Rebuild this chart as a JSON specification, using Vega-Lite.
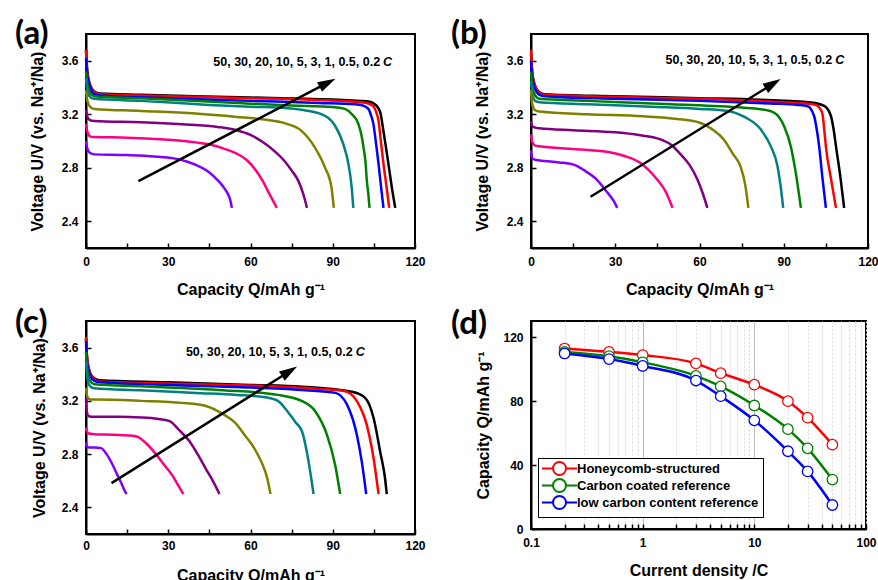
{
"$schema": "https://vega.github.io/schema/vega-lite/v6.json",
"padding": {"left": 14, "top": 17, "right": 2, "bottom": 0},
"config": {
 "font": "Liberation Sans",
 "view": {"stroke": "black", "strokeWidth": 2},
 "axis": {"labelFont": "Liberation Sans", "labelFontSize": 12, "labelFontWeight": "bold", "labelColor": "black", "titleFont": "Liberation Sans", "titleFontSize": 16, "titleFontWeight": "bold", "titleColor": "black", "domainColor": "black", "domainWidth": 2, "tickColor": "black", "tickWidth": 1.5, "tickSize": -5, "grid": false}
},
"resolve": {"scale": {"color": "independent"}, "legend": {"color": "independent"}},
"datasets": {
 "curves": [
{"p":"a","r":"0.2","x":0,"y":3.68},{"p":"a","r":"0.2","x":0.5,"y":3.52},{"p":"a","r":"0.2","x":1.5,"y":3.42},{"p":"a","r":"0.2","x":3,"y":3.37},{"p":"a","r":"0.2","x":5,"y":3.355},{"p":"a","r":"0.2","x":20,"y":3.345},{"p":"a","r":"0.2","x":40,"y":3.335},{"p":"a","r":"0.2","x":60,"y":3.325},{"p":"a","r":"0.2","x":80,"y":3.315},{"p":"a","r":"0.2","x":100,"y":3.3},{"p":"a","r":"0.2","x":103,"y":3.295},{"p":"a","r":"0.2","x":105,"y":3.28},{"p":"a","r":"0.2","x":106.5,"y":3.25},{"p":"a","r":"0.2","x":107.5,"y":3.2},{"p":"a","r":"0.2","x":108.3,"y":3.1},{"p":"a","r":"0.2","x":109.2,"y":2.98},{"p":"a","r":"0.2","x":110.3,"y":2.83},{"p":"a","r":"0.2","x":111.5,"y":2.66},{"p":"a","r":"0.2","x":112.8,"y":2.5},
{"p":"a","r":"0.5","x":0,"y":3.68},{"p":"a","r":"0.5","x":0.5,"y":3.5},{"p":"a","r":"0.5","x":1.5,"y":3.41},{"p":"a","r":"0.5","x":3,"y":3.365},{"p":"a","r":"0.5","x":5,"y":3.35},{"p":"a","r":"0.5","x":20,"y":3.34},{"p":"a","r":"0.5","x":40,"y":3.33},{"p":"a","r":"0.5","x":60,"y":3.32},{"p":"a","r":"0.5","x":80,"y":3.31},{"p":"a","r":"0.5","x":100,"y":3.29},{"p":"a","r":"0.5","x":103,"y":3.28},{"p":"a","r":"0.5","x":104.8,"y":3.26},{"p":"a","r":"0.5","x":105.8,"y":3.22},{"p":"a","r":"0.5","x":106.7,"y":3.15},{"p":"a","r":"0.5","x":107.6,"y":2.99},{"p":"a","r":"0.5","x":108.5,"y":2.83},{"p":"a","r":"0.5","x":109.6,"y":2.66},{"p":"a","r":"0.5","x":110.6,"y":2.5},
{"p":"a","r":"1","x":0,"y":3.62},{"p":"a","r":"1","x":0.5,"y":3.48},{"p":"a","r":"1","x":1.5,"y":3.4},{"p":"a","r":"1","x":3,"y":3.35},{"p":"a","r":"1","x":5,"y":3.34},{"p":"a","r":"1","x":30,"y":3.32},{"p":"a","r":"1","x":60,"y":3.3},{"p":"a","r":"1","x":85,"y":3.285},{"p":"a","r":"1","x":98,"y":3.275},{"p":"a","r":"1","x":101,"y":3.265},{"p":"a","r":"1","x":103,"y":3.24},{"p":"a","r":"1","x":104,"y":3.19},{"p":"a","r":"1","x":104.8,"y":3.13},{"p":"a","r":"1","x":105.8,"y":2.98},{"p":"a","r":"1","x":106.7,"y":2.83},{"p":"a","r":"1","x":107.6,"y":2.66},{"p":"a","r":"1","x":108.5,"y":2.5},
{"p":"a","r":"3","x":0,"y":3.52},{"p":"a","r":"3","x":0.5,"y":3.42},{"p":"a","r":"3","x":1.5,"y":3.36},{"p":"a","r":"3","x":3,"y":3.335},{"p":"a","r":"3","x":20,"y":3.32},{"p":"a","r":"3","x":50,"y":3.29},{"p":"a","r":"3","x":75,"y":3.265},{"p":"a","r":"3","x":90,"y":3.255},{"p":"a","r":"3","x":94.4,"y":3.24},{"p":"a","r":"3","x":97,"y":3.2},{"p":"a","r":"3","x":99.3,"y":3.13},{"p":"a","r":"3","x":100.4,"y":3.05},{"p":"a","r":"3","x":101.2,"y":2.955},{"p":"a","r":"3","x":102,"y":2.83},{"p":"a","r":"3","x":102.4,"y":2.71},{"p":"a","r":"3","x":103,"y":2.6},{"p":"a","r":"3","x":103.4,"y":2.5},
{"p":"a","r":"5","x":0,"y":3.47},{"p":"a","r":"5","x":0.5,"y":3.38},{"p":"a","r":"5","x":1.5,"y":3.33},{"p":"a","r":"5","x":3,"y":3.315},{"p":"a","r":"5","x":20,"y":3.3},{"p":"a","r":"5","x":45,"y":3.27},{"p":"a","r":"5","x":62,"y":3.255},{"p":"a","r":"5","x":70,"y":3.25},{"p":"a","r":"5","x":78.5,"y":3.233},{"p":"a","r":"5","x":85.9,"y":3.2},{"p":"a","r":"5","x":90.8,"y":3.116},{"p":"a","r":"5","x":93.8,"y":2.98},{"p":"a","r":"5","x":95.7,"y":2.83},{"p":"a","r":"5","x":96.9,"y":2.656},{"p":"a","r":"5","x":97.5,"y":2.5},
{"p":"a","r":"10","x":0,"y":3.38},{"p":"a","r":"10","x":0.5,"y":3.3},{"p":"a","r":"10","x":1.5,"y":3.255},{"p":"a","r":"10","x":3,"y":3.24},{"p":"a","r":"10","x":20,"y":3.225},{"p":"a","r":"10","x":40,"y":3.205},{"p":"a","r":"10","x":55,"y":3.18},{"p":"a","r":"10","x":65,"y":3.16},{"p":"a","r":"10","x":73,"y":3.13},{"p":"a","r":"10","x":78.5,"y":3.078},{"p":"a","r":"10","x":83.4,"y":2.954},{"p":"a","r":"10","x":87.1,"y":2.805},{"p":"a","r":"10","x":89.5,"y":2.656},{"p":"a","r":"10","x":90.4,"y":2.5},
{"p":"a","r":"20","x":0,"y":3.23},{"p":"a","r":"20","x":0.5,"y":3.18},{"p":"a","r":"20","x":1.5,"y":3.155},{"p":"a","r":"20","x":3,"y":3.15},{"p":"a","r":"20","x":20,"y":3.14},{"p":"a","r":"20","x":35,"y":3.125},{"p":"a","r":"20","x":48,"y":3.105},{"p":"a","r":"20","x":55,"y":3.08},{"p":"a","r":"20","x":60,"y":3.045},{"p":"a","r":"20","x":65,"y":2.985},{"p":"a","r":"20","x":69,"y":2.92},{"p":"a","r":"20","x":72,"y":2.86},{"p":"a","r":"20","x":75,"y":2.78},{"p":"a","r":"20","x":77.5,"y":2.7},{"p":"a","r":"20","x":79.3,"y":2.6},{"p":"a","r":"20","x":80.6,"y":2.5},
{"p":"a","r":"30","x":0,"y":3.13},{"p":"a","r":"30","x":0.5,"y":3.07},{"p":"a","r":"30","x":1.5,"y":3.035},{"p":"a","r":"30","x":3,"y":3.03},{"p":"a","r":"30","x":15,"y":3.025},{"p":"a","r":"30","x":30,"y":3.01},{"p":"a","r":"30","x":38,"y":2.995},{"p":"a","r":"30","x":44.6,"y":2.975},{"p":"a","r":"30","x":50,"y":2.945},{"p":"a","r":"30","x":55,"y":2.905},{"p":"a","r":"30","x":58.5,"y":2.86},{"p":"a","r":"30","x":62,"y":2.78},{"p":"a","r":"30","x":64.5,"y":2.7},{"p":"a","r":"30","x":66.5,"y":2.62},{"p":"a","r":"30","x":68.3,"y":2.55},{"p":"a","r":"30","x":69.6,"y":2.5},
{"p":"a","r":"50","x":0,"y":3.0},{"p":"a","r":"50","x":0.5,"y":2.94},{"p":"a","r":"50","x":1.5,"y":2.91},{"p":"a","r":"50","x":3,"y":2.9},{"p":"a","r":"50","x":15,"y":2.895},{"p":"a","r":"50","x":25,"y":2.885},{"p":"a","r":"50","x":32,"y":2.87},{"p":"a","r":"50","x":37,"y":2.845},{"p":"a","r":"50","x":41.8,"y":2.805},{"p":"a","r":"50","x":45,"y":2.765},{"p":"a","r":"50","x":47.9,"y":2.71},{"p":"a","r":"50","x":50,"y":2.66},{"p":"a","r":"50","x":51.6,"y":2.61},{"p":"a","r":"50","x":52.6,"y":2.56},{"p":"a","r":"50","x":53.2,"y":2.5},

{"p":"b","r":"0.2","x":0,"y":3.65},{"p":"b","r":"0.2","x":0.5,"y":3.5},{"p":"b","r":"0.2","x":1.5,"y":3.41},{"p":"b","r":"0.2","x":3,"y":3.365},{"p":"b","r":"0.2","x":5,"y":3.35},{"p":"b","r":"0.2","x":30,"y":3.335},{"p":"b","r":"0.2","x":60,"y":3.32},{"p":"b","r":"0.2","x":81.7,"y":3.308},{"p":"b","r":"0.2","x":99.6,"y":3.288},{"p":"b","r":"0.2","x":104.4,"y":3.263},{"p":"b","r":"0.2","x":106.8,"y":3.187},{"p":"b","r":"0.2","x":107.8,"y":3.08},{"p":"b","r":"0.2","x":108.6,"y":2.96},{"p":"b","r":"0.2","x":110.3,"y":2.71},{"p":"b","r":"0.2","x":111.5,"y":2.5},
{"p":"b","r":"0.5","x":0,"y":3.68},{"p":"b","r":"0.5","x":0.5,"y":3.5},{"p":"b","r":"0.5","x":1.5,"y":3.41},{"p":"b","r":"0.5","x":3,"y":3.36},{"p":"b","r":"0.5","x":5,"y":3.345},{"p":"b","r":"0.5","x":30,"y":3.33},{"p":"b","r":"0.5","x":60,"y":3.315},{"p":"b","r":"0.5","x":90,"y":3.29},{"p":"b","r":"0.5","x":98,"y":3.28},{"p":"b","r":"0.5","x":101.4,"y":3.27},{"p":"b","r":"0.5","x":103,"y":3.24},{"p":"b","r":"0.5","x":103.8,"y":3.2},{"p":"b","r":"0.5","x":104.4,"y":3.09},{"p":"b","r":"0.5","x":105,"y":2.96},{"p":"b","r":"0.5","x":106.8,"y":2.72},{"p":"b","r":"0.5","x":108.6,"y":2.5},
{"p":"b","r":"1","x":0,"y":3.6},{"p":"b","r":"1","x":0.5,"y":3.47},{"p":"b","r":"1","x":1.5,"y":3.39},{"p":"b","r":"1","x":3,"y":3.345},{"p":"b","r":"1","x":5,"y":3.335},{"p":"b","r":"1","x":30,"y":3.315},{"p":"b","r":"1","x":60,"y":3.3},{"p":"b","r":"1","x":85,"y":3.28},{"p":"b","r":"1","x":95,"y":3.27},{"p":"b","r":"1","x":98.5,"y":3.26},{"p":"b","r":"1","x":100.8,"y":3.187},{"p":"b","r":"1","x":101.8,"y":3.08},{"p":"b","r":"1","x":102.6,"y":2.96},{"p":"b","r":"1","x":103.8,"y":2.72},{"p":"b","r":"1","x":105,"y":2.5},
{"p":"b","r":"3","x":0,"y":3.52},{"p":"b","r":"3","x":0.5,"y":3.4},{"p":"b","r":"3","x":1.5,"y":3.34},{"p":"b","r":"3","x":3,"y":3.315},{"p":"b","r":"3","x":20,"y":3.3},{"p":"b","r":"3","x":50,"y":3.275},{"p":"b","r":"3","x":75,"y":3.25},{"p":"b","r":"3","x":81.8,"y":3.238},{"p":"b","r":"3","x":86.5,"y":3.213},{"p":"b","r":"3","x":90.1,"y":3.112},{"p":"b","r":"3","x":92.5,"y":2.96},{"p":"b","r":"3","x":94.3,"y":2.76},{"p":"b","r":"3","x":96.1,"y":2.5},
{"p":"b","r":"5","x":0,"y":3.45},{"p":"b","r":"5","x":0.5,"y":3.35},{"p":"b","r":"5","x":1.5,"y":3.3},{"p":"b","r":"5","x":3,"y":3.29},{"p":"b","r":"5","x":20,"y":3.275},{"p":"b","r":"5","x":45,"y":3.255},{"p":"b","r":"5","x":60,"y":3.24},{"p":"b","r":"5","x":70,"y":3.225},{"p":"b","r":"5","x":76,"y":3.18},{"p":"b","r":"5","x":81.8,"y":3.087},{"p":"b","r":"5","x":85.4,"y":2.96},{"p":"b","r":"5","x":87.8,"y":2.81},{"p":"b","r":"5","x":88.9,"y":2.66},{"p":"b","r":"5","x":89.8,"y":2.5},
{"p":"b","r":"10","x":0,"y":3.38},{"p":"b","r":"10","x":0.5,"y":3.27},{"p":"b","r":"10","x":1.5,"y":3.23},{"p":"b","r":"10","x":3,"y":3.22},{"p":"b","r":"10","x":20,"y":3.2},{"p":"b","r":"10","x":40,"y":3.185},{"p":"b","r":"10","x":52,"y":3.165},{"p":"b","r":"10","x":60.4,"y":3.135},{"p":"b","r":"10","x":65,"y":3.08},{"p":"b","r":"10","x":68.7,"y":3.01},{"p":"b","r":"10","x":72,"y":2.9},{"p":"b","r":"10","x":74.6,"y":2.81},{"p":"b","r":"10","x":76.3,"y":2.67},{"p":"b","r":"10","x":77.4,"y":2.5},
{"p":"b","r":"20","x":0,"y":3.15},{"p":"b","r":"20","x":0.5,"y":3.11},{"p":"b","r":"20","x":1.5,"y":3.1},{"p":"b","r":"20","x":3,"y":3.095},{"p":"b","r":"20","x":15,"y":3.08},{"p":"b","r":"20","x":30,"y":3.065},{"p":"b","r":"20","x":40,"y":3.04},{"p":"b","r":"20","x":45,"y":3.02},{"p":"b","r":"20","x":50,"y":2.97},{"p":"b","r":"20","x":53.3,"y":2.9},{"p":"b","r":"20","x":56.5,"y":2.82},{"p":"b","r":"20","x":59.3,"y":2.71},{"p":"b","r":"20","x":61.3,"y":2.6},{"p":"b","r":"20","x":62.8,"y":2.5},
{"p":"b","r":"30","x":0,"y":3.05},{"p":"b","r":"30","x":0.5,"y":2.99},{"p":"b","r":"30","x":1.5,"y":2.965},{"p":"b","r":"30","x":3,"y":2.96},{"p":"b","r":"30","x":15,"y":2.94},{"p":"b","r":"30","x":27,"y":2.92},{"p":"b","r":"30","x":33,"y":2.89},{"p":"b","r":"30","x":39,"y":2.835},{"p":"b","r":"30","x":42,"y":2.78},{"p":"b","r":"30","x":45,"y":2.71},{"p":"b","r":"30","x":48,"y":2.62},{"p":"b","r":"30","x":50.4,"y":2.5},
{"p":"b","r":"50","x":0,"y":2.93},{"p":"b","r":"50","x":0.5,"y":2.87},{"p":"b","r":"50","x":1.5,"y":2.86},{"p":"b","r":"50","x":3,"y":2.855},{"p":"b","r":"50","x":10,"y":2.84},{"p":"b","r":"50","x":15,"y":2.825},{"p":"b","r":"50","x":19,"y":2.78},{"p":"b","r":"50","x":23.5,"y":2.71},{"p":"b","r":"50","x":27,"y":2.62},{"p":"b","r":"50","x":29.5,"y":2.55},{"p":"b","r":"50","x":30.7,"y":2.5},

{"p":"c","r":"0.2","x":0,"y":3.67},{"p":"c","r":"0.2","x":0.5,"y":3.5},{"p":"c","r":"0.2","x":1.5,"y":3.41},{"p":"c","r":"0.2","x":3,"y":3.37},{"p":"c","r":"0.2","x":5,"y":3.355},{"p":"c","r":"0.2","x":30,"y":3.34},{"p":"c","r":"0.2","x":60,"y":3.32},{"p":"c","r":"0.2","x":78.8,"y":3.306},{"p":"c","r":"0.2","x":97,"y":3.268},{"p":"c","r":"0.2","x":101.8,"y":3.223},{"p":"c","r":"0.2","x":104.9,"y":3.071},{"p":"c","r":"0.2","x":107.3,"y":2.818},{"p":"c","r":"0.2","x":109.1,"y":2.615},{"p":"c","r":"0.2","x":109.7,"y":2.5},
{"p":"c","r":"0.5","x":0,"y":3.68},{"p":"c","r":"0.5","x":0.5,"y":3.5},{"p":"c","r":"0.5","x":1.5,"y":3.41},{"p":"c","r":"0.5","x":3,"y":3.36},{"p":"c","r":"0.5","x":5,"y":3.345},{"p":"c","r":"0.5","x":30,"y":3.33},{"p":"c","r":"0.5","x":60,"y":3.315},{"p":"c","r":"0.5","x":85,"y":3.29},{"p":"c","r":"0.5","x":94.5,"y":3.273},{"p":"c","r":"0.5","x":98.8,"y":3.198},{"p":"c","r":"0.5","x":102.4,"y":3.02},{"p":"c","r":"0.5","x":104.9,"y":2.767},{"p":"c","r":"0.5","x":106.7,"y":2.5},
{"p":"c","r":"1","x":0,"y":3.65},{"p":"c","r":"1","x":0.5,"y":3.47},{"p":"c","r":"1","x":1.5,"y":3.39},{"p":"c","r":"1","x":3,"y":3.35},{"p":"c","r":"1","x":5,"y":3.34},{"p":"c","r":"1","x":30,"y":3.32},{"p":"c","r":"1","x":60,"y":3.3},{"p":"c","r":"1","x":80,"y":3.28},{"p":"c","r":"1","x":90.9,"y":3.26},{"p":"c","r":"1","x":95.2,"y":3.172},{"p":"c","r":"1","x":98.8,"y":2.944},{"p":"c","r":"1","x":100.6,"y":2.742},{"p":"c","r":"1","x":102.2,"y":2.5},
{"p":"c","r":"3","x":0,"y":3.57},{"p":"c","r":"3","x":0.5,"y":3.42},{"p":"c","r":"3","x":1.5,"y":3.35},{"p":"c","r":"3","x":3,"y":3.325},{"p":"c","r":"3","x":20,"y":3.31},{"p":"c","r":"3","x":50,"y":3.28},{"p":"c","r":"3","x":70,"y":3.245},{"p":"c","r":"3","x":78.8,"y":3.198},{"p":"c","r":"3","x":83.6,"y":3.122},{"p":"c","r":"3","x":87.9,"y":2.944},{"p":"c","r":"3","x":90.9,"y":2.716},{"p":"c","r":"3","x":92.7,"y":2.5},
{"p":"c","r":"5","x":0,"y":3.5},{"p":"c","r":"5","x":0.5,"y":3.37},{"p":"c","r":"5","x":1.5,"y":3.31},{"p":"c","r":"5","x":3,"y":3.295},{"p":"c","r":"5","x":20,"y":3.28},{"p":"c","r":"5","x":40,"y":3.26},{"p":"c","r":"5","x":55,"y":3.245},{"p":"c","r":"5","x":66,"y":3.225},{"p":"c","r":"5","x":70,"y":3.2},{"p":"c","r":"5","x":73.5,"y":3.12},{"p":"c","r":"5","x":76.4,"y":3.04},{"p":"c","r":"5","x":78.8,"y":2.97},{"p":"c","r":"5","x":81.2,"y":2.742},{"p":"c","r":"5","x":83,"y":2.5},
{"p":"c","r":"10","x":0,"y":3.3},{"p":"c","r":"10","x":0.5,"y":3.23},{"p":"c","r":"10","x":1.5,"y":3.21},{"p":"c","r":"10","x":3,"y":3.21},{"p":"c","r":"10","x":20,"y":3.2},{"p":"c","r":"10","x":35,"y":3.185},{"p":"c","r":"10","x":44,"y":3.16},{"p":"c","r":"10","x":50,"y":3.1},{"p":"c","r":"10","x":54.2,"y":3.04},{"p":"c","r":"10","x":58,"y":2.94},{"p":"c","r":"10","x":61.5,"y":2.84},{"p":"c","r":"10","x":64,"y":2.74},{"p":"c","r":"10","x":66.1,"y":2.62},{"p":"c","r":"10","x":67.3,"y":2.5},
{"p":"c","r":"20","x":0,"y":3.22},{"p":"c","r":"20","x":0.3,"y":3.12},{"p":"c","r":"20","x":1,"y":3.085},{"p":"c","r":"20","x":3,"y":3.08},{"p":"c","r":"20","x":12,"y":3.08},{"p":"c","r":"20","x":20,"y":3.075},{"p":"c","r":"20","x":26,"y":3.065},{"p":"c","r":"20","x":30.3,"y":3.05},{"p":"c","r":"20","x":34,"y":2.98},{"p":"c","r":"20","x":37.6,"y":2.9},{"p":"c","r":"20","x":40.7,"y":2.8},{"p":"c","r":"20","x":43.7,"y":2.69},{"p":"c","r":"20","x":46.5,"y":2.59},{"p":"c","r":"20","x":48.7,"y":2.5},
{"p":"c","r":"30","x":0,"y":3.0},{"p":"c","r":"30","x":0.3,"y":2.97},{"p":"c","r":"30","x":1,"y":2.955},{"p":"c","r":"30","x":3,"y":2.95},{"p":"c","r":"30","x":10,"y":2.945},{"p":"c","r":"30","x":18.2,"y":2.935},{"p":"c","r":"30","x":22,"y":2.88},{"p":"c","r":"30","x":25.5,"y":2.8},{"p":"c","r":"30","x":28.5,"y":2.72},{"p":"c","r":"30","x":31.5,"y":2.64},{"p":"c","r":"30","x":33.8,"y":2.56},{"p":"c","r":"30","x":35.5,"y":2.5},
{"p":"c","r":"50","x":0,"y":2.89},{"p":"c","r":"50","x":0.3,"y":2.86},{"p":"c","r":"50","x":1,"y":2.85},{"p":"c","r":"50","x":3,"y":2.85},{"p":"c","r":"50","x":5.5,"y":2.845},{"p":"c","r":"50","x":7.5,"y":2.8},{"p":"c","r":"50","x":9.7,"y":2.72},{"p":"c","r":"50","x":11.3,"y":2.65},{"p":"c","r":"50","x":12.7,"y":2.59},{"p":"c","r":"50","x":14,"y":2.53},{"p":"c","r":"50","x":14.8,"y":2.5}
 ],
 "rate": [
{"s":"Honeycomb-structured","c":0.2,"q":112.8},{"s":"Honeycomb-structured","c":0.5,"q":110.7},{"s":"Honeycomb-structured","c":1,"q":108.7},{"s":"Honeycomb-structured","c":3,"q":103.5},{"s":"Honeycomb-structured","c":5,"q":97.4},{"s":"Honeycomb-structured","c":10,"q":90.2},{"s":"Honeycomb-structured","c":20,"q":79.9},{"s":"Honeycomb-structured","c":30,"q":69.6},{"s":"Honeycomb-structured","c":50,"q":52.7},
{"s":"Carbon coated reference","c":0.2,"q":110.7},{"s":"Carbon coated reference","c":0.5,"q":108},{"s":"Carbon coated reference","c":1,"q":104.2},{"s":"Carbon coated reference","c":3,"q":95.7},{"s":"Carbon coated reference","c":5,"q":89.1},{"s":"Carbon coated reference","c":10,"q":77.2},{"s":"Carbon coated reference","c":20,"q":62.4},{"s":"Carbon coated reference","c":30,"q":50.4},{"s":"Carbon coated reference","c":50,"q":30.9},
{"s":"low carbon content reference","c":0.2,"q":109.7},{"s":"low carbon content reference","c":0.5,"q":106.2},{"s":"low carbon content reference","c":1,"q":101.9},{"s":"low carbon content reference","c":3,"q":92.8},{"s":"low carbon content reference","c":5,"q":83},{"s":"low carbon content reference","c":10,"q":67.9},{"s":"low carbon content reference","c":20,"q":48.6},{"s":"low carbon content reference","c":30,"q":36},{"s":"low carbon content reference","c":50,"q":15}
 ]
},
"columns": 2,
"bounds": "flush",
"spacing": {"row": 73, "column": 116},
"concat": [
 {
  "width": 329, "height": 214,
  "title": {"text": "(a)", "anchor": "start", "frame": "group", "dx": -71, "offset": -33, "baseline": "middle", "font": "Lato", "fontSize": 33, "fontWeight": "bold", "color": "black"},
  "layer": [
   {"data": {"name": "curves"}, "transform": [{"filter": "datum.p == 'a'"}],
    "mark": {"type": "line", "interpolate": "monotone", "strokeWidth": 2.5},
    "encoding": {
     "x": {"field": "x", "type": "quantitative", "scale": {"domain": [0, 120], "nice": false}, "axis": {"title": "Capacity Q/mAh g⁻¹", "values": [0,15,30,45,60,75,90,105,120], "format": "d", "labelExpr": "datum.value % 30 == 0 ? datum.label : ''", "labelFlush": false, "labelOverlap": false, "labelPadding": 13, "titlePadding": 14}},
     "y": {"field": "y", "type": "quantitative", "scale": {"domain": [2.2, 3.8], "nice": false, "zero": false}, "axis": {"title": "Voltage U/V (vs. Na⁺/Na)", "values": [2.4,2.8,3.2,3.6], "format": ".1f", "labelOverlap": false, "labelPadding": 13, "titlePadding": 16}},
     "color": {"field": "r", "type": "nominal", "scale": {"domain": ["0.2","0.5","1","3","5","10","20","30","50"], "range": ["#000000","#ff0000","#0000ff","#008000","#008080","#808000","#800080","#ff0080","#8000ff"]}, "legend": null}
    }},
   {"data": {"values": [{}]}, "mark": {"type": "rule", "color": "black", "strokeWidth": 2.5}, "encoding": {"x": {"datum": 19.1}, "y": {"datum": 2.70}, "x2": {"datum": 88.4}, "y2": {"datum": 3.438}}},
   {"data": {"values": [{}]}, "mark": {"type": "point", "shape": "M0,0L0.6,2L-0.6,2Z", "filled": true, "color": "black", "opacity": 1, "size": 324, "angle": 62.5, "strokeWidth": 0}, "encoding": {"x": {"datum": 91}, "y": {"datum": 3.466}}},
   {"data": {"values": [{}]}, "mark": {"type": "text", "text": "50, 30, 20, 10, 5, 3, 1, 0.5, 0.2", "align": "right", "baseline": "middle", "dx": -2, "font": "Liberation Sans", "fontSize": 12.5, "fontWeight": "bold", "color": "black"}, "encoding": {"x": {"datum": 108}, "y": {"datum": 3.587}}},
   {"data": {"values": [{}]}, "mark": {"type": "text", "text": "C", "align": "left", "baseline": "middle", "dx": 1, "font": "Liberation Sans", "fontSize": 12.5, "fontWeight": "bold", "fontStyle": "italic", "color": "black"}, "encoding": {"x": {"datum": 108}, "y": {"datum": 3.587}}}
  ]
 },
 {
  "width": 337, "height": 214,
  "title": {"text": "(b)", "anchor": "start", "frame": "group", "dx": -80, "offset": -33, "baseline": "middle", "font": "Lato", "fontSize": 33, "fontWeight": "bold", "color": "black"},
  "layer": [
   {"data": {"name": "curves"}, "transform": [{"filter": "datum.p == 'b'"}],
    "mark": {"type": "line", "interpolate": "monotone", "strokeWidth": 2.5},
    "encoding": {
     "x": {"field": "x", "type": "quantitative", "scale": {"domain": [0, 120], "nice": false}, "axis": {"title": "Capacity Q/mAh g⁻¹", "values": [0,15,30,45,60,75,90,105,120], "format": "d", "labelExpr": "datum.value % 30 == 0 ? datum.label : ''", "labelFlush": false, "labelOverlap": false, "labelPadding": 13, "titlePadding": 14}},
     "y": {"field": "y", "type": "quantitative", "scale": {"domain": [2.2, 3.8], "nice": false, "zero": false}, "axis": {"title": "Voltage U/V (vs. Na⁺/Na)", "values": [2.4,2.8,3.2,3.6], "format": ".1f", "labelOverlap": false, "labelPadding": 13, "titlePadding": 16}},
     "color": {"field": "r", "type": "nominal", "scale": {"domain": ["0.2","0.5","1","3","5","10","20","30","50"], "range": ["#000000","#ff0000","#0000ff","#008000","#008080","#808000","#800080","#ff0080","#8000ff"]}, "legend": null}
    }},
   {"data": {"values": [{}]}, "mark": {"type": "rule", "color": "black", "strokeWidth": 2.5}, "encoding": {"x": {"datum": 21.2}, "y": {"datum": 2.583}, "x2": {"datum": 86.5}, "y2": {"datum": 3.432}}},
   {"data": {"values": [{}]}, "mark": {"type": "point", "shape": "M0,0L0.6,2L-0.6,2Z", "filled": true, "color": "black", "opacity": 1, "size": 324, "angle": 58.2, "strokeWidth": 0}, "encoding": {"x": {"datum": 88.9}, "y": {"datum": 3.464}}},
   {"data": {"values": [{}]}, "mark": {"type": "text", "text": "50, 30, 20, 10, 5, 3, 1, 0.5, 0.2", "align": "right", "baseline": "middle", "dx": -2, "font": "Liberation Sans", "fontSize": 12.5, "fontWeight": "bold", "color": "black"}, "encoding": {"x": {"datum": 108}, "y": {"datum": 3.607}}},
   {"data": {"values": [{}]}, "mark": {"type": "text", "text": "C", "align": "left", "baseline": "middle", "dx": 1, "font": "Liberation Sans", "fontSize": 12.5, "fontWeight": "bold", "fontStyle": "italic", "color": "black"}, "encoding": {"x": {"datum": 108}, "y": {"datum": 3.607}}}
  ]
 },
 {
  "width": 329, "height": 213,
  "title": {"text": "(c)", "anchor": "start", "frame": "group", "dx": -71, "offset": -35, "baseline": "middle", "font": "Lato", "fontSize": 33, "fontWeight": "bold", "color": "black"},
  "layer": [
   {"data": {"name": "curves"}, "transform": [{"filter": "datum.p == 'c'"}],
    "mark": {"type": "line", "interpolate": "monotone", "strokeWidth": 2.5},
    "encoding": {
     "x": {"field": "x", "type": "quantitative", "scale": {"domain": [0, 120], "nice": false}, "axis": {"title": "Capacity Q/mAh g⁻¹", "values": [0,15,30,45,60,75,90,105,120], "format": "d", "labelExpr": "datum.value % 30 == 0 ? datum.label : ''", "labelFlush": false, "labelOverlap": false, "labelPadding": 11, "titlePadding": 16}},
     "y": {"field": "y", "type": "quantitative", "scale": {"domain": [2.2, 3.8], "nice": false, "zero": false}, "axis": {"title": "Voltage U/V (vs. Na⁺/Na)", "values": [2.4,2.8,3.2,3.6], "format": ".1f", "labelOverlap": false, "labelPadding": 13, "titlePadding": 14}},
     "color": {"field": "r", "type": "nominal", "scale": {"domain": ["0.2","0.5","1","3","5","10","20","30","50"], "range": ["#000000","#ff0000","#0000ff","#008000","#008080","#808000","#800080","#ff0080","#8000ff"]}, "legend": null}
    }},
   {"data": {"values": [{}]}, "mark": {"type": "rule", "color": "black", "strokeWidth": 2.5}, "encoding": {"x": {"datum": 9.3}, "y": {"datum": 2.582}, "x2": {"datum": 74.6}, "y2": {"datum": 3.426}}},
   {"data": {"values": [{}]}, "mark": {"type": "point", "shape": "M0,0L0.6,2L-0.6,2Z", "filled": true, "color": "black", "opacity": 1, "size": 324, "angle": 57.9, "strokeWidth": 0}, "encoding": {"x": {"datum": 77}, "y": {"datum": 3.458}}},
   {"data": {"values": [{}]}, "mark": {"type": "text", "text": "50, 30, 20, 10, 5, 3, 1, 0.5, 0.2", "align": "right", "baseline": "middle", "dx": -2, "font": "Liberation Sans", "fontSize": 12.5, "fontWeight": "bold", "color": "black"}, "encoding": {"x": {"datum": 98}, "y": {"datum": 3.565}}},
   {"data": {"values": [{}]}, "mark": {"type": "text", "text": "C", "align": "left", "baseline": "middle", "dx": 1, "font": "Liberation Sans", "fontSize": 12.5, "fontWeight": "bold", "fontStyle": "italic", "color": "black"}, "encoding": {"x": {"datum": 98}, "y": {"datum": 3.565}}}
  ]
 },
 {
  "width": 335, "height": 208,
  "title": {"text": "(d)", "anchor": "start", "frame": "group", "dx": -80, "offset": -36, "baseline": "middle", "font": "Lato", "fontSize": 33, "fontWeight": "bold", "color": "black"},
  "data": {"name": "rate"},
  "layer": [
   {"mark": {"type": "line", "interpolate": "monotone", "strokeWidth": 2.5},
    "encoding": {
     "x": {"field": "c", "type": "quantitative", "scale": {"type": "log", "domain": [0.1, 100], "nice": false}, "axis": {"title": "Current density /C", "values": [0.1,0.2,0.3,0.4,0.5,0.6,0.7,0.8,0.9,1,2,3,4,5,6,7,8,9,10,20,30,40,50,60,70,80,90,100], "labelExpr": "datum.value == 0.1 ? '0.1' : datum.value == 1 ? '1' : datum.value == 10 ? '10' : datum.value == 100 ? '100' : ''", "labelOverlap": false, "labelFlush": false, "labelPadding": 13, "titlePadding": 14, "grid": true, "gridWidth": 1, "gridColor": {"condition": {"test": "datum.value == 1 || datum.value == 10", "value": "#bdbdbd"}, "value": "#d9d9d9"}, "gridDash": {"condition": {"test": "datum.value == 1 || datum.value == 10", "value": []}, "value": [2, 2]}}},
     "y": {"field": "q", "type": "quantitative", "scale": {"domain": [0, 130], "nice": false}, "axis": {"title": "Capacity Q/mAh g⁻¹", "values": [0,20,40,60,80,100,120], "labelExpr": "datum.value % 40 == 0 ? datum.label : ''", "labelOverlap": false, "labelPadding": 13, "titlePadding": 11}},
     "color": {"field": "s", "type": "nominal", "scale": {"domain": ["Honeycomb-structured","Carbon coated reference","low carbon content reference"], "range": ["#ff0000","#008000","#0000ff"]},
       "legend": {"title": null, "orient": "none", "legendX": 7, "legendY": 137, "symbolType": "M-3.5,0L-1.3,0M1.3,0L3.5,0M-1.3,0A1.3,1.3,0,1,1,1.3,0A1.3,1.3,0,1,1,-1.3,0", "symbolSize": 100, "symbolStrokeWidth": 2, "symbolOffset": 11, "labelOffset": 11, "labelFont": "Liberation Sans", "labelFontSize": 13, "labelFontWeight": "bold", "labelColor": "black", "fillColor": "white", "strokeColor": "black", "padding": 4, "rowPadding": -5, "labelLimit": 400, "symbolFillColor": "white", "encode": {"symbols": {"update": {"fill": {"value": "white"}, "opacity": {"value": 1}}}}}}
    }},
   {"mark": {"type": "point", "shape": "circle", "filled": false, "fill": "white", "size": 110, "strokeWidth": 1.3, "opacity": 1},
    "encoding": {
     "x": {"field": "c", "type": "quantitative"},
     "y": {"field": "q", "type": "quantitative"},
     "color": {"field": "s", "type": "nominal",
       "legend": {"title": null, "orient": "none", "legendX": 7, "legendY": 137, "symbolType": "M-3.5,0L-1.3,0M1.3,0L3.5,0M-1.3,0A1.3,1.3,0,1,1,1.3,0A1.3,1.3,0,1,1,-1.3,0", "symbolSize": 100, "symbolStrokeWidth": 2, "symbolOffset": 11, "labelOffset": 11, "labelFont": "Liberation Sans", "labelFontSize": 13, "labelFontWeight": "bold", "labelColor": "black", "fillColor": "white", "strokeColor": "black", "padding": 4, "rowPadding": -5, "labelLimit": 400, "symbolFillColor": "white", "encode": {"symbols": {"update": {"fill": {"value": "white"}, "opacity": {"value": 1}}}}}}
    }}
  ]
 }
]
}
